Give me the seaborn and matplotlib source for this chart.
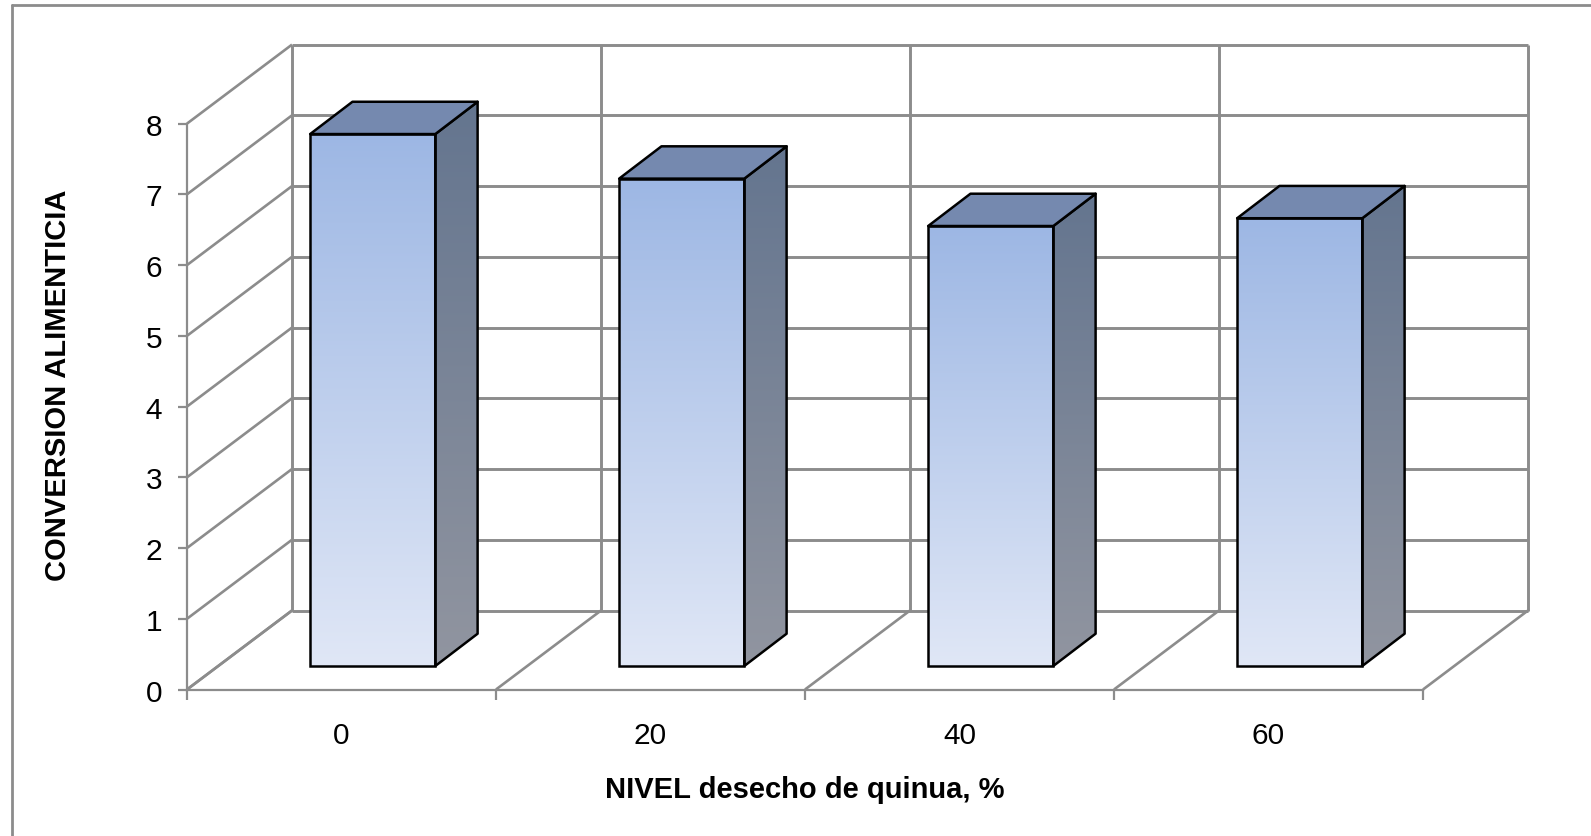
import numpy as np
import pandas as pd
import matplotlib
matplotlib.use("Agg")
import matplotlib.pyplot as plt
from matplotlib.colors import LinearSegmentedColormap
from matplotlib.lines import Line2D
from matplotlib.patches import Polygon
import seaborn as sns

# Feed conversion by inclusion level of quinoa waste
niveles = ["0", "20", "40", "60"]
conversion = [7.52, 6.89, 6.22, 6.33]
y_ticks = [0, 1, 2, 3, 4, 5, 6, 7, 8]
x_title = "NIVEL desecho de quinua, %"
y_title = "CONVERSION ALIMENTICIA"

W, H = 1591, 837
GRID = "#8c8c8c"

sns.set_style("white")
plt.rcParams["font.family"] = ["Liberation Sans", "DejaVu Sans"]

fig = plt.figure(figsize=(W / 100, H / 100), dpi=100, facecolor="white")

# Front plane of the box, in pixels from the top-left corner
left, right, base, top = 187.0, 1423.0, 690.5, 124.6
ax = fig.add_axes([left / W, 1 - base / H, (right - left) / W, (base - top) / H])

df = pd.DataFrame({"nivel": niveles, "conversion": conversion})
sns.barplot(data=df, x="nivel", y="conversion", order=niveles, width=0.405,
            color="#9db7e4", saturation=1, edgecolor="black", linewidth=1.8,
            ax=ax, zorder=5)

x_edges = np.arange(len(niveles) + 1) - 0.5
ax.set_xlim(x_edges[0], x_edges[-1])
ax.set_ylim(y_ticks[0], y_ticks[-1])

# Oblique offsets of the box, expressed in data units
unit_x = (right - left) / len(niveles)
unit_y = (base - top) / y_ticks[-1]
depth_x, depth_y = 105.0 / unit_x, 79.0 / unit_y

# Back wall, left wall and floor
line_kw = dict(color=GRID, clip_on=False, zorder=1, solid_capstyle="butt")
for y in y_ticks:
    ax.plot([x_edges[0] + depth_x, x_edges[-1] + depth_x],
            [y + depth_y, y + depth_y], lw=2.1, **line_kw)
    ax.plot([x_edges[0], x_edges[0] + depth_x], [y, y + depth_y], lw=1.9, **line_kw)
for x in x_edges:
    ax.plot([x + depth_x, x + depth_x], [depth_y, y_ticks[-1] + depth_y], lw=2.1, **line_kw)
    ax.plot([x, x + depth_x], [0, depth_y], lw=1.9, **line_kw)

# Solid faces of each column, pushed part of the way into the box
near = 23.5 / 79.0
far_x, far_y = 42.3 / unit_x, 32.3 / unit_y
front_cmap = LinearSegmentedColormap.from_list("front", ["#9db7e4", "#e0e7f6"])
side_cmap = LinearSegmentedColormap.from_list("side", ["#64758f", "#9195a0"])
ramp = np.linspace(0, 1, 256).reshape(-1, 1)

for bar in list(ax.patches):
    bar.set_x(bar.get_x() + near * depth_x)
    bar.set_y(bar.get_y() + near * depth_y)
    bar.set_clip_on(False)
    bar.set_facecolor("none")
    x0, y0, w, h = bar.get_x(), bar.get_y(), bar.get_width(), bar.get_height()
    x1, y1 = x0 + w, y0 + h

    ax.imshow(ramp, cmap=front_cmap, extent=(x0, x1, y0, y1), aspect="auto",
              zorder=3, clip_on=False, interpolation="bilinear")

    side = Polygon([(x1, y0), (x1 + far_x, y0 + far_y), (x1 + far_x, y1 + far_y), (x1, y1)],
                   closed=True, facecolor="none", edgecolor="black", lw=1.8,
                   clip_on=False, zorder=5, joinstyle="round")
    ax.add_patch(side)
    shade = ax.imshow(ramp, cmap=side_cmap, extent=(x1, x1 + far_x, y0, y1 + far_y),
                      aspect="auto", zorder=3, interpolation="bilinear")
    shade.set_clip_box(fig.bbox)
    shade.set_clip_path(side)

    ax.add_patch(Polygon([(x0, y1), (x0 + far_x, y1 + far_y), (x1 + far_x, y1 + far_y), (x1, y1)],
                         closed=True, facecolor="#7589af", edgecolor="black", lw=1.8,
                         clip_on=False, zorder=5, joinstyle="round"))

ax.set_xlim(x_edges[0], x_edges[-1])
ax.set_ylim(y_ticks[0], y_ticks[-1])
ax.patch.set_alpha(0)

# Axes furniture on the front plane
for name, spine in ax.spines.items():
    spine.set_visible(name in ("left", "bottom"))
    spine.set_color(GRID)
    spine.set_linewidth(1.6)
    spine.set_zorder(2)

ax.set_xticks(x_edges)
ax.set_xticklabels([])
ax.set_xticks(np.arange(len(niveles)), niveles, minor=True)
ax.set_yticks(y_ticks)
ax.tick_params(axis="x", which="major", length=7, width=1.6, color=GRID, bottom=True)
ax.tick_params(axis="x", which="minor", length=0, labelsize=21.5, pad=23, labelcolor="black")
ax.tick_params(axis="y", length=6.5, width=1.6, color=GRID, left=True, labelsize=21.5,
               pad=11.5, labelcolor="black")

ax.set_xlabel(x_title, fontsize=21, fontweight="bold", color="black", va="center")
ax.set_ylabel(y_title, fontsize=21, fontweight="bold", color="black", va="center")
ax.xaxis.set_label_coords(0.5, -(790 - base) / (base - top))
ax.yaxis.set_label_coords(-(left - 58) / (right - left), (base - 385.6) / (base - top))

# Chart-area outline along the top and left edges
fig.add_artist(Line2D([12 / W, 12 / W], [0, 1 - 6 / H], color=GRID, lw=2.0))
fig.add_artist(Line2D([12 / W, 1], [1 - 6 / H, 1 - 6 / H], color=GRID, lw=2.0))

fig.savefig("out.png", dpi=100)
